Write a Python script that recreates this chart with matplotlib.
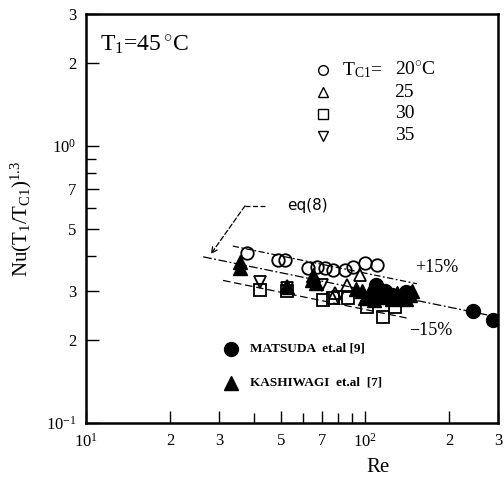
import numpy as np
import matplotlib
matplotlib.use("Agg")
import matplotlib.pyplot as plt

plt.rcParams['font.family'] = ['Liberation Serif', 'DejaVu Serif']
plt.rcParams['mathtext.fontset'] = 'custom'
plt.rcParams['mathtext.rm'] = 'Liberation Serif'
plt.rcParams['mathtext.it'] = 'Liberation Serif:italic'
plt.rcParams['mathtext.bf'] = 'Liberation Serif:bold'

# ---- data ----
re_20 = [37.8, 48.8, 51.7, 62.5, 67.3, 71.9, 76.8, 84.8, 90.6, 100.0, 110.4]
nu_20 = [0.411, 0.388, 0.388, 0.363, 0.366, 0.363, 0.357, 0.357, 0.366, 0.378, 0.372]

re_25 = [52.5, 78.0, 86.2, 96.0]
nu_25 = [0.312, 0.295, 0.315, 0.342]

re_30 = [42.0, 52.5, 70.7, 76.8, 86.9, 101.7, 116.0, 128.0]
nu_30 = [0.302, 0.300, 0.278, 0.283, 0.283, 0.262, 0.241, 0.262]

re_35 = [42.0, 52.5, 70.1, 80.0]
nu_35 = [0.323, 0.308, 0.315, 0.285]

re_mat = [110.0, 118.0, 125.0, 140.0, 243.8, 287.6]
nu_mat = [0.315, 0.300, 0.290, 0.298, 0.254, 0.235]

re_kas = [35.6, 35.6, 52.5, 64.6, 65.1, 67.0, 93.0, 98.0, 100.0, 103.0, 106.0,
          108.0, 112.0, 115.0, 120.0, 125.0, 130.0, 135.0, 140.0, 145.0, 148.0]
nu_kas = [0.381, 0.362, 0.310, 0.328, 0.342, 0.320, 0.305, 0.300, 0.283, 0.295, 0.290,
          0.278, 0.300, 0.285, 0.290, 0.280, 0.295, 0.285, 0.280, 0.290, 0.300]

eq_coef = 0.781
eq_exp = -0.206
eq_re_range = [26.3, 300.0]
plus_re_range = [33.6, 153.6]
minus_re_range = [31.0, 141.0]
band = 0.15

x_ticks = [10, 20, 30, 50, 70, 100, 200, 300]
x_labels = [r'$10^{1}$', '2', '3', '5', '7', r'$10^{2}$', '2', '3']
y_ticks = [0.1, 0.2, 0.3, 0.5, 0.7, 1.0, 2.0, 3.0]
y_labels = [r'$10^{-1}$', '2', '3', '5', '7', r'$10^{0}$', '2', '3']

# ---- figure ----
fig = plt.figure(figsize=(5.04, 4.93), dpi=100)
ax = fig.add_axes([86/504, 1-423/493, (498-86)/504, (423-14)/493])
ax.set_xscale('log')
ax.set_yscale('log')
ax.set_xlim(10, 300)
ax.set_ylim(0.1, 3)

def eq(re):
    return eq_coef * np.power(re, eq_exp)

r = np.geomspace(*eq_re_range, 50)
ax.plot(r, eq(r), color='black', lw=0.9, ls=(0, (7, 2, 1.5, 2)), zorder=2)
r = np.geomspace(*plus_re_range, 50)
ax.plot(r, eq(r) * (1 + band), color='black', lw=0.9, ls=(0, (5, 2, 1.5, 2)), zorder=2)
r = np.geomspace(*minus_re_range, 50)
ax.plot(r, eq(r) * (1 - band), color='black', lw=0.9, ls=(0, (6, 3)), zorder=2)

mk = dict(ls='none', color='black', mfc='none', mew=1.3, ms=9, zorder=3)
ax.plot(re_20, nu_20, marker='o', **mk)
ax.plot(re_25, nu_25, marker='^', **mk)
ax.plot(re_30, nu_30, marker='s', **dict(mk, ms=8))
ax.plot(re_35, nu_35, marker='v', **mk)
ax.plot(re_kas, nu_kas, marker='^', ls='none', color='black', ms=10, zorder=4)
ax.plot(re_mat, nu_mat, marker='o', ls='none', color='black', ms=10, zorder=4)

# ticks
ax.set_xticks(x_ticks)
ax.set_xticklabels(x_labels)
ax.set_yticks(y_ticks)
ax.set_yticklabels(y_labels)
ax.xaxis.set_minor_locator(matplotlib.ticker.LogLocator(base=10, subs=np.arange(2, 10)))
ax.yaxis.set_minor_locator(matplotlib.ticker.LogLocator(base=10, subs=np.arange(2, 10)))
ax.xaxis.set_minor_formatter(matplotlib.ticker.NullFormatter())
ax.yaxis.set_minor_formatter(matplotlib.ticker.NullFormatter())
ax.tick_params(which='both', direction='in', top=False, right=False, width=1.0,
               labelsize=12, colors='black')
ax.tick_params(which='major', length=9, pad=7)
ax.tick_params(which='minor', length=7)
for s in ax.spines.values():
    s.set_linewidth(1.8)

ax.set_xlabel('Re', fontsize=15)
ax.xaxis.set_label_coords(0.709, -0.085)
ax.set_ylabel(r'Nu(T$_{1}$/T$_{\mathrm{C1}}$)$^{1.3}$', fontsize=15)
ax.yaxis.set_label_coords(-0.125, 0.5)

T = ax.transAxes
ax.text(0.034, 0.924, r'T$_{1}$=45$\,^{\circ}$C', transform=T, fontsize=17, va='center', ha='left')

# legend block
leg_y = [0.863, 0.809, 0.756, 0.702]
leg_m = ['o', '^', 's', 'v']
leg_t = ['20', '25', '30', '35']
for yy, m, t in zip(leg_y, leg_m, leg_t):
    ax.plot([0.575], [yy], marker=m, transform=T, color='black', mfc='none', mew=1.0,
            ms=7, ls='none', clip_on=False)
    tt = t + r'$^{\circ}$C' if t == '20' else t
    ax.text(0.749, yy, tt, transform=T, fontsize=14, va='center', ha='left')
ax.text(0.622, leg_y[0], r'T$_{\mathrm{C1}}$=', transform=T, fontsize=14, va='center', ha='left')

ax.plot([0.352], [0.181], marker='o', transform=T, color='black', ms=10, ls='none')
ax.text(0.398, 0.181, 'MATSUDA  et.al [9]', transform=T, fontsize=9.5, fontweight='bold',
        va='center', ha='left')
ax.plot([0.352], [0.098], marker='^', transform=T, color='black', ms=10, ls='none')
ax.text(0.398, 0.098, 'KASHIWAGI  et.al  [7]', transform=T, fontsize=9.5, fontweight='bold',
        va='center', ha='left')

ax.text(0.799, 0.381, '+15%', transform=T, fontsize=13, va='center', ha='left')
ax.text(0.784, 0.227, '\u221215%', transform=T, fontsize=13, va='center', ha='left')

# eq(8) annotation
ax.plot([0.386, 0.434], [0.531, 0.531], transform=T, color='black', lw=0.9, ls=(0, (4, 2)))
ax.annotate('', xy=(0.303, 0.413), xytext=(0.386, 0.531), xycoords=T, textcoords=T,
            arrowprops=dict(arrowstyle='->', color='black', lw=0.9, linestyle=(0, (4, 2)),
                            shrinkA=0, shrinkB=0))
ax.text(0.488, 0.532, 'eq(8)', transform=T, fontsize=11, fontfamily='DejaVu Sans',
        va='center', ha='left')

fig.savefig('out.png', dpi=100)
